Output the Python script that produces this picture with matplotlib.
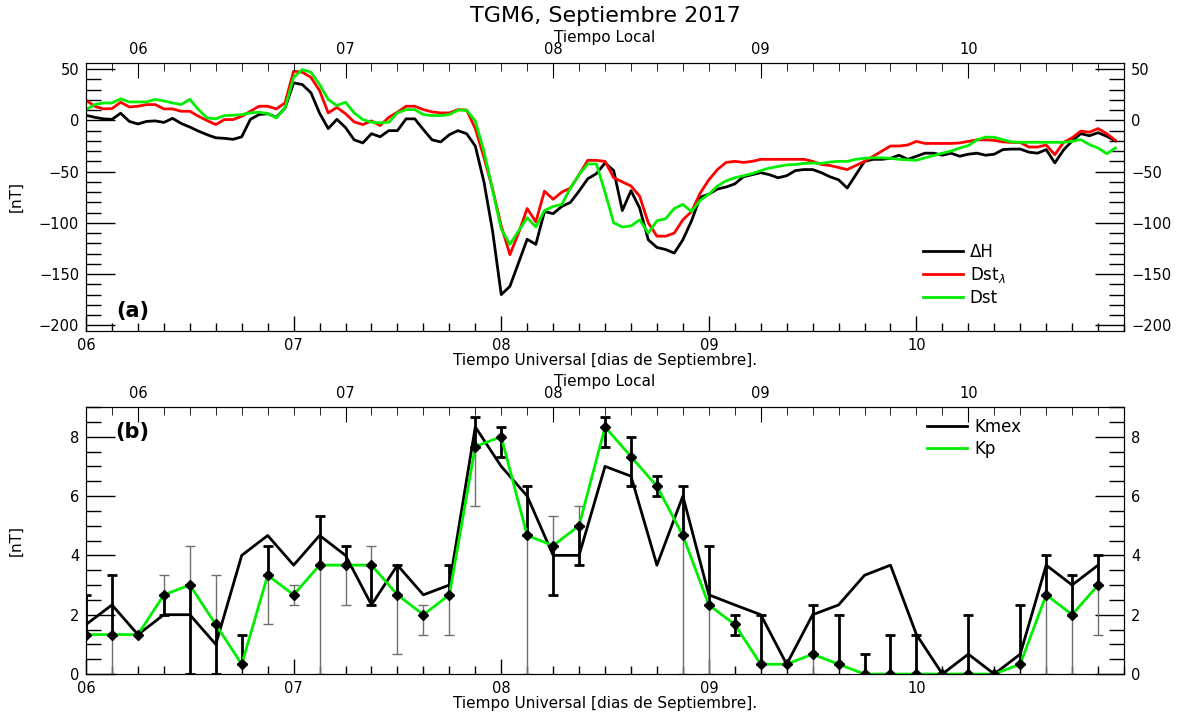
import numpy as np
import matplotlib
matplotlib.use('Agg')
from matplotlib import pyplot as plt
from matplotlib.ticker import MultipleLocator

nan = np.nan

# hourly values (UT), 6 to 10 September 2017
hours = np.arange(120)
delta_h = [5, 3, 1.5, 1, 7, -1, -3.5, -1, -0.5, -2, 2, -3, -6.5, -10.5, -14, -17, -17.5, -18.5, -16, 1, 5.7, 6.5, 3, 12,
           36.6, 35, 27, 7, -8, 1, -7, -19, -22, -13, -16, -10, -10, 1.5, 1.5, -9, -19, -21, -14, -10, -13, -25, -60, -108,
           -170, -162, -139, -116, -121, -89, -91, -84, -80, -69, -57, -52, -41.5, -49, -88, -68.6, -85.5, -116.5, -124, -126, -129.5, -116.5, -98, -75,
           -72, -67, -65, -62, -55, -53, -51, -53, -56, -54, -49, -48, -48, -51, -55, -58, -66, -53, -40, -38, -38, -37, -34, -38,
           -35, -32, -32, -34, -32, -35, -33, -32, -34, -33, -28.5, -28, -28, -31, -32, -28.5, -41.5, -29, -20, -13, -15, -12, -15.5, -20]
dst_lambda = [19.6, 13.8, 11.2, 11.5, 17.7, 13.1, 13.8, 15.4, 15.4, 11.2, 11.2, 8.9, 8.9, 4, -0.2, -4.1, 0.8, 0.8, 4, 8.9, 13.8, 13.8, 11.2, 17,
              48, 47, 42, 29, 7.3, 12.7, 6.5, -1.5, -4.1, -0.5, -5, 3, 8, 13.8, 13.8, 10.5, 8.3, 7.3, 7.3, 10.5, 10, -8, -36, -67,
              -103, -131, -110, -86, -99, -69, -77, -70, -66, -53, -39, -39, -40, -56, -60, -64, -74, -100, -113, -113, -110, -97, -89, -71,
              -58, -48, -41, -40, -41, -40, -38, -38, -38, -38, -38, -38, -40, -43, -44, -46, -48, -44, -40, -35, -30, -25, -25, -24,
              -20.5, -22.5, -22.5, -22.5, -22.5, -22, -20.5, -19, -19, -19.5, -21, -21.5, -21.5, -26, -26, -24, -33.5, -21.5, -17, -10.5, -11.5, -8, -13, -19.5]
dst = [10.5, 15.4, 17, 17, 21, 18, 18, 18, 20.5, 19, 17, 15.5, 20.5, 10.5, 2.4, 1.5, 4.7, 5, 5.7, 7.3, 8, 6.6, 2.4, 12,
       42, 49.6, 47, 35, 20.3, 14.5, 17.7, 7.3, 0.8, -1.8, -2.5, -1.8, 7.3, 10.5, 10.5, 5.7, 4.7, 4.7, 5.7, 10, 10, -0.8, -30, -68,
       -106, -121, -108, -95, -104, -88, -84, -82, -66, -53, -42.5, -42.5, -70, -100, -104, -103, -97, -110, -98, -96, -86, -82, -89, -78,
       -72, -64, -59, -56, -54, -52, -49, -46.5, -45, -43.5, -43, -42, -41.6, -42, -40.6, -40, -40, -38, -37, -36.5, -36.5, -37, -38, -38.5,
       -39, -36.5, -34.4, -32, -30, -27, -24.6, -19, -16.3, -16.5, -18.8, -21, -21.4, -21.4, -21.4, -21.4, -21.4, -21.4, -20.4, -18.8, -23.6, -27, -32.5, -27]

# 3-hourly K indices
kmex = [1.67, 2.33, 1.33, 2.0, 2.0, 1.0, 4.0, 4.67, 3.67, 4.67, 4.0, 2.33, 3.67, 2.67, 3.0, 8.33, 7.0, 6.0, 4.0, 4.0,
        7.0, 6.67, 3.67, 6.0, 2.67, 2.33, 2.0, 0.33, 2.0, 2.33, 3.33, 3.67, 1.33, 0.0, 0.67, 0.0, 0.67, 3.67, 3.0, 3.67]
kp = [1.33, 1.33, 1.33, 2.67, 3.0, 1.67, 0.33, 3.33, 2.67, 3.67, 3.67, 3.67, 2.67, 2.0, 2.67, 7.67, 8.0, 4.67, 4.33, 5.0,
      8.33, 7.33, 6.33, 4.67, 2.33, 1.67, 0.33, 0.33, 0.67, 0.33, 0, 0, 0, 0, 0, 0, 0.33, 2.67, 2.0, 3.0]

# error ranges: heavy bars and light bars
heavy_lo = [1.33, 1.33, nan, 2.0, 0, 0, 0.33, 3.33, nan, 3.67, 3.67, 2.33, 2.67, nan, 2.67, 7.67, 7.33, 4.67, 2.67, 3.67,
            7.67, 6.33, 6.0, 4.67, 2.33, 1.33, 0.33, nan, 0.67, 0.33, 0, 0, 0, nan, 0, nan, 0.33, 2.67, 2.0, 3.0]
heavy_hi = [2.67, 3.33, nan, 2.67, 3.0, 1.67, 1.33, 4.33, nan, 5.33, 4.33, 3.67, 3.67, nan, 3.67, 8.67, 8.33, 6.33, 4.33, 5.0,
            8.67, 8.0, 6.67, 6.33, 4.33, 2.0, 2.0, nan, 2.33, 2.0, 0.67, 1.33, 1.33, nan, 2.0, nan, 2.33, 4.0, 3.33, 4.0]
light_lo = [nan, 0, nan, 2.67, 3.0, 1.67, nan, 1.67, 2.33, 0, 2.33, 3.67, 0.67, 1.33, 1.33, 5.67, nan, 0, 4.33, 5.0,
            nan, nan, nan, 0, 0, nan, nan, nan, 0, nan, nan, nan, nan, nan, nan, nan, nan, 0, 0, 1.33]
light_hi = [nan, 1.33, nan, 3.33, 4.33, 3.33, nan, 3.33, 3.0, 3.67, 3.67, 4.33, 2.67, 2.33, 2.67, 7.67, nan, 4.67, 5.33, 5.67,
            nan, nan, nan, 4.67, 2.33, nan, nan, nan, 0.67, nan, nan, nan, nan, nan, nan, nan, nan, 2.67, 2.0, 3.0]

days = [6, 7, 8, 9, 10]
day_labels = ['06', '07', '08', '09', '10']
lt_offset = 6 / 24.0   # local time = UT - 6 h

green = '#00ee00'
t_hour = 6 + hours / 24.0
t_k = 6 + np.arange(len(kp)) * 3 / 24.0


def setup_axes(ax, ymin, ymax, ymajor, yminor):
    ax.set_xlim(6, 11)
    ax.set_ylim(ymin, ymax)
    ax.set_xticks(days)
    ax.set_xticklabels(day_labels)
    ax.xaxis.set_minor_locator(MultipleLocator(0.125))
    ax.yaxis.set_major_locator(MultipleLocator(ymajor))
    ax.yaxis.set_minor_locator(MultipleLocator(yminor))
    ax.tick_params(which='both', direction='in', right=True, labelright=True,
                   labelsize=10.5, width=1, pad=5)
    ax.tick_params(axis='y', which='major', length=21)
    ax.tick_params(axis='y', which='minor', length=11)
    ax.tick_params(axis='x', which='major', length=11)
    ax.tick_params(axis='x', which='minor', length=6)
    ax.set_xlabel('Tiempo Universal [dias de Septiembre].', fontsize=11, labelpad=0)
    ax.set_ylabel('[nT]', fontsize=11)
    ax.yaxis.set_label_coords(-0.06, 0.5)

    top = ax.twiny()
    top.set_xlim(6, 11)
    top.set_xticks([d + lt_offset for d in days])
    top.set_xticklabels(day_labels)
    top.xaxis.set_minor_locator(MultipleLocator(0.125))
    top.tick_params(which='both', direction='in', labelsize=10.5, pad=4)
    top.tick_params(which='major', length=11)
    top.tick_params(which='minor', length=6)
    top.set_xlabel('Tiempo Local', fontsize=11, labelpad=0)
    return top


fig = plt.figure(figsize=(11.77, 7.15), dpi=100)
ax1 = fig.add_axes([0.0731, 0.5371, 0.8819, 0.3748])
ax2 = fig.add_axes([0.0731, 0.0573, 0.8819, 0.3734])

# (a) Dst indices
ax1.plot(t_hour, delta_h, color='black', lw=2, label='ΔH')
ax1.plot(t_hour, dst_lambda, color='red', lw=2, label='Dst$_{\\lambda}$')
ax1.plot(t_hour, dst, color=green, lw=2, label='Dst')
setup_axes(ax1, -205.5, 56, 50, 10)
ax1.legend(loc='upper left', bbox_to_anchor=(0.8, 0.355), frameon=False, fontsize=12,
           handlelength=2.4, handletextpad=0.4, labelspacing=0.25, borderaxespad=0)
ax1.text(0.045, 0.075, '(a)', transform=ax1.transAxes, fontsize=15, fontweight='bold',
         ha='center', va='center')

# (b) K indices
lo = np.array(light_lo)
hi = np.array(light_hi)
ok = ~np.isnan(lo)
ax2.errorbar(t_k[ok], lo[ok], yerr=[np.zeros(ok.sum()), (hi - lo)[ok]], fmt='none',
             ecolor='#707070', elinewidth=1, capsize=3.6, capthick=1)
lo = np.array(heavy_lo)
hi = np.array(heavy_hi)
ok = ~np.isnan(lo)
ax2.errorbar(t_k[ok], lo[ok], yerr=[np.zeros(ok.sum()), (hi - lo)[ok]], fmt='none',
             ecolor='black', elinewidth=2, capsize=3.6, capthick=2)
ax2.plot(t_k, kmex, color='black', lw=2, label='Kmex')
ax2.plot(t_k, kp, color=green, lw=2, label='Kp')
ax2.plot(t_k, kp, 'D', color='black', ms=5.5)
setup_axes(ax2, 0, 9, 2, 0.5)
ax2.legend(loc='upper left', bbox_to_anchor=(0.8, 1.0), frameon=False, fontsize=12,
           handlelength=2.4, handletextpad=0.4, labelspacing=0.25, borderaxespad=0.25)
ax2.text(0.045, 0.905, '(b)', transform=ax2.transAxes, fontsize=15, fontweight='bold',
         ha='center', va='center')

fig.text(0.514, 1 - 16 / 715, 'TGM6, Septiembre 2017', fontsize=16, ha='center', va='center')

plt.savefig('out.png', dpi=100)
